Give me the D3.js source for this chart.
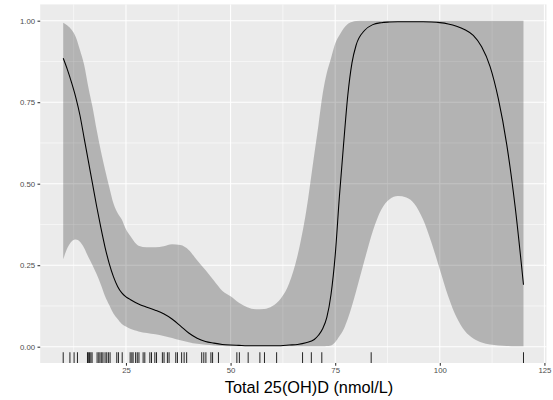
<!DOCTYPE html>
<html>
<head>
<meta charset="utf-8">
<script src="https://cdn.jsdelivr.net/npm/d3@7"></script>
<style>
  html, body { margin: 0; padding: 0; background: #ffffff; }
  svg { display: block; font-family: "Liberation Sans", Arial, sans-serif; }
</style>
</head>
<body>
<svg id="chart" width="553" height="400"></svg>
<script>
// Vitamin D concentration grid (nmol/L)
const vitD = [10, 11, 12, 13, 14, 15, 16, 17, 18, 19, 20, 21, 22, 23, 24, 25, 26, 28, 30, 32,
  34, 36, 38, 40, 42, 44, 46, 48, 50, 52, 54, 56, 58, 60, 62, 64, 66, 68, 70, 71,
  72, 73, 74, 75, 76, 77, 78, 79, 80, 82, 84, 86, 88, 90, 92, 94, 96, 98, 100, 102,
  104, 106, 108, 110, 112, 114, 116, 118, 120];

// Fitted probability
const fitted = [0.885, 0.85, 0.81, 0.765, 0.71, 0.64, 0.57, 0.50, 0.43, 0.365, 0.305, 0.255, 0.215, 0.185, 0.165, 0.153, 0.145, 0.131, 0.121, 0.112,
  0.101, 0.085, 0.064, 0.042, 0.026, 0.016, 0.011, 0.007, 0.005, 0.004, 0.003, 0.003, 0.003, 0.003, 0.003, 0.005, 0.007, 0.012, 0.022, 0.035,
  0.055, 0.09, 0.16, 0.28, 0.46, 0.62, 0.77, 0.87, 0.925, 0.97, 0.988, 0.994, 0.996, 0.997, 0.997, 0.997, 0.997, 0.996, 0.994, 0.99,
  0.983, 0.972, 0.955, 0.92, 0.86, 0.76, 0.62, 0.43, 0.19];

// Upper confidence limit
const upper = [0.994, 0.985, 0.972, 0.95, 0.91, 0.865, 0.797, 0.735, 0.665, 0.60, 0.543, 0.49, 0.44, 0.41, 0.39, 0.36, 0.34, 0.31, 0.305, 0.305,
  0.308, 0.314, 0.312, 0.297, 0.265, 0.235, 0.203, 0.172, 0.155, 0.135, 0.121, 0.115, 0.116, 0.125, 0.148, 0.195, 0.28, 0.41, 0.59, 0.68,
  0.775, 0.84, 0.885, 0.93, 0.955, 0.976, 0.99, 0.996, 0.999, 1, 1, 1, 1, 1, 1, 1, 1, 1, 1, 1,
  1, 1, 1, 1, 1, 1, 1, 1, 1];

// Lower confidence limit
const lower = [0.268, 0.303, 0.323, 0.329, 0.322, 0.303, 0.275, 0.25, 0.222, 0.19, 0.155, 0.128, 0.102, 0.085, 0.07, 0.062, 0.055, 0.047, 0.042, 0.038,
  0.033, 0.027, 0.02, 0.014, 0.009, 0.006, 0.004, 0.002, 0.001, 0.001, 0.001, 0.001, 0.001, 0.001, 0.001, 0.001, 0.001, 0.001, 0.001, 0.001,
  0.001, 0.002, 0.004, 0.014, 0.032, 0.053, 0.085, 0.125, 0.17, 0.265, 0.355, 0.42, 0.452, 0.462, 0.458, 0.437, 0.39, 0.32, 0.237, 0.155,
  0.09, 0.048, 0.025, 0.013, 0.007, 0.004, 0.002, 0.001, 0.001];

// Observed values shown as a rug
const observed = [10, 11.6, 12.6, 13.4, 15.8, 16.0, 16.3, 16.6, 16.9, 18.1, 18.5, 18.8, 19.2, 19.5, 20.0, 20.4, 20.8, 21.2,
  22.8, 23.2, 24.1, 26.0, 26.4, 26.7, 27.3, 27.7, 28.1, 29.1, 29.5, 30.7, 31.1, 31.9, 32.3, 33.7, 34.1, 34.9, 35.3,
  36.9, 37.3, 38.3, 38.9, 39.5, 43.1, 43.6, 44.1, 45.3, 45.7, 47.1, 51.5, 52.1, 54.2, 57.0, 58.1, 61.0, 67.2, 69.3,
  71.8, 83.6, 120];

const xTicks = [25, 50, 75, 100, 125];
const xMinor = [12.5, 37.5, 62.5, 87.5, 112.5];
const yTicks = [0, 0.25, 0.5, 0.75, 1];
const yMinor = [0.125, 0.375, 0.625, 0.875];
const xTitle = "Total 25(OH)D (nmol/L)";

const panel = { left: 40.2, right: 546.5, top: 4.4, bottom: 363 };

const x = d3.scaleLinear().domain([4.5, 125.5]).range([panel.left, panel.right]);
const y = d3.scaleLinear().domain([-0.05, 1.05]).range([panel.bottom, panel.top]);

const svg = d3.select("#chart");

// panel background
svg.append("rect")
  .attr("x", panel.left).attr("y", panel.top)
  .attr("width", panel.right - panel.left).attr("height", panel.bottom - panel.top)
  .attr("fill", "#ebebeb");

const grid = svg.append("g");
grid.selectAll("line.xminor").data(xMinor).join("line")
  .attr("x1", d => x(d)).attr("x2", d => x(d))
  .attr("y1", panel.top).attr("y2", panel.bottom)
  .attr("stroke", "#fff").attr("stroke-width", 0.55);
grid.selectAll("line.yminor").data(yMinor).join("line")
  .attr("y1", d => y(d)).attr("y2", d => y(d))
  .attr("x1", panel.left).attr("x2", panel.right)
  .attr("stroke", "#fff").attr("stroke-width", 0.55);
grid.selectAll("line.xmajor").data(xTicks).join("line")
  .attr("x1", d => x(d)).attr("x2", d => x(d))
  .attr("y1", panel.top).attr("y2", panel.bottom)
  .attr("stroke", "#fff").attr("stroke-width", 1.07);
grid.selectAll("line.ymajor").data(yTicks).join("line")
  .attr("y1", d => y(d)).attr("y2", d => y(d))
  .attr("x1", panel.left).attr("x2", panel.right)
  .attr("stroke", "#fff").attr("stroke-width", 1.07);

const rows = vitD.map((v, i) => ({ v, fit: fitted[i], lo: lower[i], hi: upper[i] }));

// confidence band
svg.append("path")
  .datum(rows)
  .attr("d", d3.area().x(d => x(d.v)).y0(d => y(d.lo)).y1(d => y(d.hi)).curve(d3.curveMonotoneX))
  .attr("fill", "#000").attr("fill-opacity", 0.235);

// fitted curve
svg.append("path")
  .datum(rows)
  .attr("d", d3.line().x(d => x(d.v)).y(d => y(d.fit)).curve(d3.curveMonotoneX))
  .attr("fill", "none").attr("stroke", "#000").attr("stroke-width", 1.07);

// rug
const rugLen = (panel.bottom - panel.top) * 0.03;
svg.append("g").selectAll("line").data(observed).join("line")
  .attr("x1", d => x(d)).attr("x2", d => x(d))
  .attr("y1", panel.bottom).attr("y2", panel.bottom - rugLen)
  .attr("stroke", "#000").attr("stroke-opacity", 0.85).attr("stroke-width", 1);

// x axis
const xAxis = d3.axisBottom(x).tickValues(xTicks).tickSize(2.7).tickPadding(2).tickFormat(d3.format("d"));
const gx = svg.append("g").attr("transform", `translate(0,${panel.bottom})`).call(xAxis);
gx.select(".domain").remove();
gx.selectAll(".tick line").attr("stroke", "#333333").attr("stroke-width", 1.07);
gx.selectAll(".tick text").attr("fill", "#4d4d4d").attr("font-size", 7.8)
  .attr("font-family", "Liberation Sans, Arial, sans-serif");

// y axis
const yAxis = d3.axisLeft(y).tickValues(yTicks).tickSize(2.7).tickPadding(2.4).tickFormat(d3.format(".2f"));
const gy = svg.append("g").attr("transform", `translate(${panel.left},0)`).call(yAxis);
gy.select(".domain").remove();
gy.selectAll(".tick line").attr("stroke", "#333333").attr("stroke-width", 1.07);
gy.selectAll(".tick text").attr("fill", "#4d4d4d").attr("font-size", 7.8)
  .attr("font-family", "Liberation Sans, Arial, sans-serif");

// axis title
svg.append("text")
  .attr("x", 309).attr("y", 393)
  .attr("text-anchor", "middle")
  .attr("font-size", 16.3)
  .attr("fill", "#000")
  .text(xTitle);
</script>
</body>
</html>
